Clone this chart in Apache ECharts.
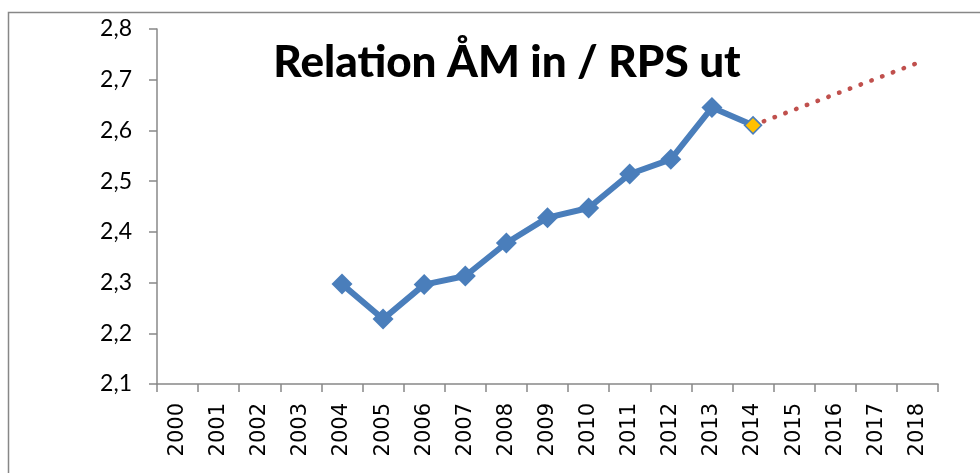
<!DOCTYPE html>
<html>
<head>
<meta charset="utf-8">
<script src="https://cdn.jsdelivr.net/npm/echarts@6/dist/echarts.min.js"></script>
<style>
  html, body { margin: 0; padding: 0; background: #fff; }
  #box { width: 980px; height: 473px; }
</style>
</head>
<body>
<div id="box"></div>
<script>
// kategorier (år)
var years = ["2000", "2001", "2002", "2003", "2004", "2005", "2006", "2007", "2008", "2009",
  "2010", "2011", "2012", "2013", "2014", "2015", "2016", "2017", "2018"];
// relation ÅM in / RPS ut
var relation = [null, null, null, null, 2.297, 2.228, 2.296, 2.313, 2.378, 2.428,
  2.447, 2.514, 2.543, 2.645, 2.610, null, null, null, null];
// trendlinje (start 2014, slut 2018)
var trend = [null, null, null, null, null, null, null, null, null, null,
  null, null, null, null, 2.610, null, null, null, 2.733];
var yTicks = { min: 2.1, max: 2.8, step: 0.1 };
var titleText = "Relation ÅM in / RPS ut";

var chart = echarts.init(document.getElementById("box"), null, { renderer: "canvas" });

var mainData = relation.map(function (v, i) {
  if (i === 14) {
    return {
      value: v,
      symbolSize: 17,
      itemStyle: { color: "#FFC000", borderColor: "#4A7EBB", borderWidth: 1.5 }
    };
  }
  return v;
});

var option = {
  animation: false,
  title: {
    text: titleText,
    left: 502,
    textAlign: "center",
    top: 36,
    textStyle: { fontFamily: "Lato", fontWeight: 900, fontSize: 44, color: "#000" }
  },
  graphic: [{
    type: "rect",
    shape: { x: 8.5, y: 12.5, width: 1000, height: 500 },
    style: { fill: "none", stroke: "#878787", lineWidth: 1.5 },
    silent: true
  }],
  grid: { left: 157, right: 42, top: 29, bottom: 89, containLabel: false },
  xAxis: {
    type: "category",
    data: years,
    boundaryGap: true,
    axisLine: { lineStyle: { color: "#888", width: 1.5 } },
    axisTick: { show: true, length: 8, alignWithLabel: false, lineStyle: { color: "#888", width: 1.5 } },
    axisLabel: {
      rotate: 90,
      margin: 19,
      fontFamily: "DejaVu Sans",
      fontSize: 21,
      color: "#000"
    },
    splitLine: { show: false }
  },
  yAxis: {
    type: "value",
    min: yTicks.min,
    max: yTicks.max,
    interval: yTicks.step,
    axisLine: { show: true, lineStyle: { color: "#888", width: 1.5 } },
    axisTick: { show: true, length: 8, lineStyle: { color: "#888", width: 1.5 } },
    axisLabel: {
      margin: 25,
      fontFamily: "Lato",
      fontSize: 23,
      color: "#000",
      formatter: function (v) { return v.toFixed(1).replace(".", ","); }
    },
    splitLine: { show: false }
  },
  series: [
    {
      type: "line",
      data: trend,
      connectNulls: true,
      showSymbol: false,
      symbol: "none",
      z: 1,
      lineStyle: { color: "#C0504D", width: 4.5, type: [0.5, 11], cap: "round" }
    },
    {
      type: "line",
      data: mainData,
      z: 3,
      symbol: "diamond",
      symbolSize: 21,
      showAllSymbol: true,
      itemStyle: { color: "#4A7EBB" },
      lineStyle: { color: "#4A7EBB", width: 6 }
    }
  ]
};

chart.setOption(option);
</script>
</body>
</html>
